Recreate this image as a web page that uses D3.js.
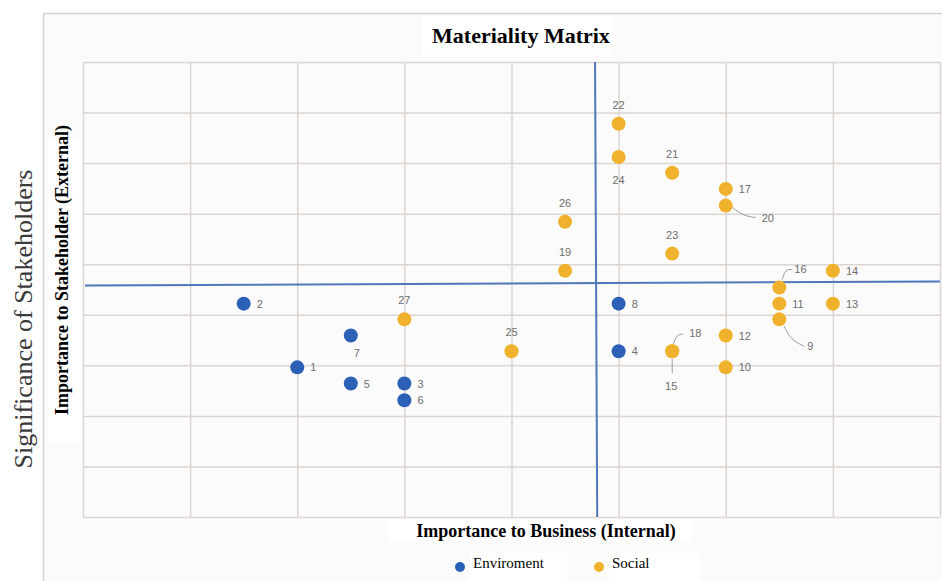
<!DOCTYPE html>
<html lang="en">
	<head>
		<meta charset="utf-8">
		<title>Materiality Matrix</title>
		<script src="https://d3js.org/d3.v7.min.js"></script>
		<style type="text/css">
			body, html {
				margin: 0;
				padding: 0;
				background: #ffffff;
			}
			svg text {
				font-family: "Liberation Serif", "Times New Roman", serif;
			}
			svg text.lbl {
				font-family: "Liberation Sans", Arial, sans-serif;
			}
		</style>
	</head>
	<body>
		<div id="chart"></div>
		<script type="text/javascript">

		// Enviroment issues: id, business importance (x), stakeholder importance (y)
		var envIds = [1, 2, 3, 4, 5, 6, 7, 8]
		var envX = [2.0, 1.5, 3.0, 5.0, 2.5, 3.0, 2.5, 5.0]
		var envY = [2.96, 4.22, 2.64, 3.28, 2.64, 2.31, 3.59, 4.22]

		// Social issues
		var socialIds = [9, 10, 11, 12, 13, 14, 15, 16, 17, 18, 19, 20, 21, 22, 23, 24, 25, 26, 27]
		var socialX = [6.5, 6.0, 6.5, 6.0, 7.0, 7.0, 5.5, 6.5, 6.0, 5.5, 4.5, 6.0, 5.5, 5.0, 5.5, 5.0, 4.0, 4.5, 3.0]
		var socialY = [3.91, 2.96, 4.22, 3.59, 4.22, 4.87, 3.28, 4.54, 6.49, 3.28, 4.87, 6.16, 6.81, 7.78, 5.21, 7.12, 3.28, 5.84, 3.91]

		// quadrant divider lines (drawn by hand in the original, slightly tilted)
		var dividerX = [4.78, 4.80]   // at top, at bottom
		var dividerY = [4.58, 4.66]   // at left, at right

		var seriesNames = ["Enviroment", "Social"]
		var seriesColors = ["#2b60b6", "#f0b22c"]

		var points = envIds.map((id, i) => ({id: id, x: envX[i], y: envY[i], s: 0}))
			.concat(socialIds.map((id, i) => ({id: id, x: socialX[i], y: socialY[i], s: 1})))

		// label placement per point (default: to the right)
		var above = {dx: 0, dy: -15, anchor: "middle"}
		var labelPlace = {
			22: above, 21: above, 26: above, 19: above, 23: above, 27: above, 25: above,
			24: {dx: 0, dy: 27, anchor: "middle"},
			7: {dx: 6, dy: 21, anchor: "middle"},
			15: {dx: -1, dy: 39, anchor: "middle", leader: [[0, 8], [0, 22]]},
			18: {dx: 17, dy: -14, anchor: "start", leader: [[1, -7], [5, -17], [11, -17]]},
			16: {dx: 15, dy: -14, anchor: "start", leader: [[3, -8], [6, -18], [13, -18]]},
			20: {dx: 36, dy: 16, anchor: "start", leader: [[7, 2], [17, 10], [30, 12]]},
			9: {dx: 28, dy: 31, anchor: "start", leader: [[5, 7], [11, 20], [25, 27]]}
		}
		var defaultPlace = {dx: 13, dy: 4, anchor: "start"}
		var placeOf = id => labelPlace[id] || defaultPlace

		var W = 942, H = 581
		var svg = d3.select("#chart").append("svg")
			.attr("width", W)
			.attr("height", H)

		// outer frame
		svg.append("rect")
			.attr("x", 43.5)
			.attr("y", 13.5)
			.attr("width", W)
			.attr("height", H)
			.attr("fill", "#fbfbfb")
			.attr("stroke", "#d9d3cf")
			.attr("stroke-width", 1.5)

		var margin = {top: 62, right: 2, bottom: 64, left: 83}
		var xScale = d3.scaleLinear()
			.domain([0, 8])
			.range([margin.left, W - margin.right])
		var yScale = d3.scaleLinear()
			.domain([0, 9])
			.range([H - margin.bottom, margin.top])

		// grid
		svg.append("g")
			.attr("transform", "translate(0," + (H - margin.bottom) + ")")
			.call(d3.axisBottom(xScale).ticks(8).tickSize(-(yScale(0) - yScale(9))).tickFormat(""))
			.call(g => g.select(".domain").remove())
			.call(g => g.selectAll("line").attr("stroke", "#ddd5d1").attr("stroke-width", 1.5))

		svg.append("g")
			.attr("transform", "translate(" + margin.left + ",0)")
			.call(d3.axisLeft(yScale).ticks(9).tickSize(-(xScale(8) - xScale(0))).tickFormat(""))
			.call(g => g.select(".domain").remove())
			.call(g => g.selectAll("line").attr("stroke", "#ddd5d1").attr("stroke-width", 1.5))

		// quadrant dividers
		svg.append("line")
			.attr("x1", xScale(dividerX[0]))
			.attr("y1", yScale(9))
			.attr("x2", xScale(dividerX[1]))
			.attr("y2", yScale(0))
			.attr("stroke", "#5077bb")
			.attr("stroke-width", 2)
		svg.append("line")
			.attr("x1", xScale(0) + 2)
			.attr("y1", yScale(dividerY[0]))
			.attr("x2", xScale(8))
			.attr("y2", yScale(dividerY[1]))
			.attr("stroke", "#5077bb")
			.attr("stroke-width", 2)

		// leader lines
		points.forEach(p => {
			var pl = placeOf(p.id)
			if (pl.leader) {
				var cx = xScale(p.x), cy = yScale(p.y)
				svg.append("path")
					.attr("d", d3.line().curve(d3.curveBasis)(pl.leader.map(d => [cx + d[0], cy + d[1]])))
					.attr("fill", "none")
					.attr("stroke", "#9a9a9a")
					.attr("stroke-width", 1)
			}
		})

		// points
		svg.selectAll("circle.pt")
			.data(points)
			.enter().append("circle")
			.attr("class", "pt")
			.attr("cx", d => xScale(d.x))
			.attr("cy", d => yScale(d.y))
			.attr("r", 7)
			.attr("fill", d => seriesColors[d.s])

		// point labels
		svg.selectAll("text.lbl")
			.data(points)
			.enter().append("text")
			.attr("class", "lbl")
			.text(d => d.id)
			.attr("x", d => xScale(d.x) + placeOf(d.id).dx)
			.attr("y", d => yScale(d.y) + placeOf(d.id).dy)
			.attr("text-anchor", d => placeOf(d.id).anchor)
			.attr("font-size", "11px")
			.attr("fill", "#6e6e6e")

		// title
		svg.append("rect")
			.attr("x", 422).attr("y", 16).attr("width", 190).attr("height", 39)
			.attr("fill", "#ffffff")
		svg.append("text")
			.text("Materiality Matrix")
			.attr("x", 521)
			.attr("y", 43)
			.attr("text-anchor", "middle")
			.attr("font-weight", "bold")
			.attr("font-size", "22px")

		// inner y-axis title
		svg.append("rect")
			.attr("x", 48).attr("y", 139).attr("width", 33).attr("height", 304)
			.attr("fill", "#ffffff")
		svg.append("text")
			.text("Importance to Stakeholder (External)")
			.attr("text-anchor", "middle")
			.attr("font-weight", "bold")
			.attr("font-size", "18px")
			.attr("transform", "translate(68,270) rotate(-90)")

		// outer y-axis title
		svg.append("text")
			.text("Significance of Stakeholders")
			.attr("text-anchor", "middle")
			.attr("font-size", "26px")
			.attr("fill", "#3a3a3a")
			.attr("transform", "translate(32,319) rotate(-90)")

		// x-axis title
		svg.append("rect")
			.attr("x", 388).attr("y", 520).attr("width", 304).attr("height", 20)
			.attr("fill", "#ffffff")
		svg.append("text")
			.text("Importance to Business (Internal)")
			.attr("x", 546)
			.attr("y", 537)
			.attr("text-anchor", "middle")
			.attr("font-weight", "bold")
			.attr("font-size", "18px")

		// legend
		var legendX = [460, 599]
		seriesNames.forEach((name, i) => {
			svg.append("rect")
				.attr("x", legendX[i] + 10).attr("y", 553)
				.attr("width", i === 0 ? 97 : 91).attr("height", 28)
				.attr("fill", "#ffffff")
			svg.append("circle")
				.attr("cx", legendX[i])
				.attr("cy", 567)
				.attr("r", 5)
				.attr("fill", seriesColors[i])
			svg.append("text")
				.text(name)
				.attr("x", legendX[i] + 13)
				.attr("y", 568)
				.attr("font-size", "15px")
		})

		</script>
	</body>
</html>
